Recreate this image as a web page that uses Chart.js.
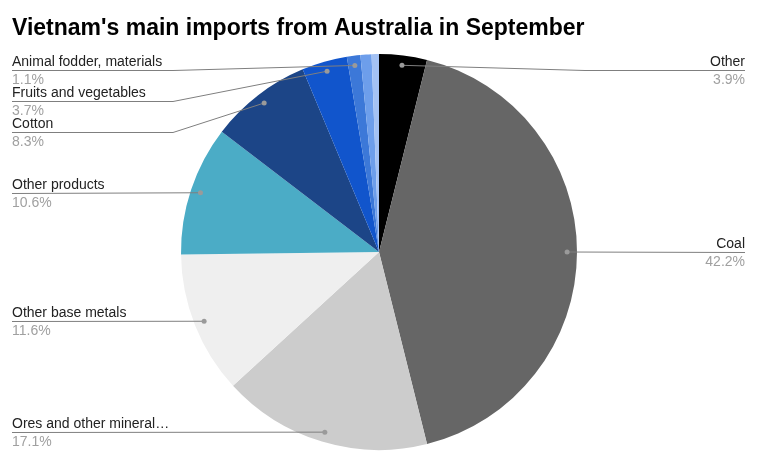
<!DOCTYPE html>
<html>
<head>
<meta charset="utf-8">
<script src="https://cdn.jsdelivr.net/npm/chart.js@4"></script>
<style>
  html, body { margin: 0; padding: 0; background: #fff; }
  #wrap { width: 764px; height: 464px; }
</style>
</head>
<body>
<div id="wrap"><canvas id="pie" width="764" height="464"></canvas></div>
<script>
const title = "Vietnam's main imports from Australia in September";

// slices clockwise from 12 o'clock
const categories = [
  'Other', 'Coal', 'Ores and other mineral…', 'Other base metals', 'Other products',
  'Cotton', 'Fruits and vegetables', 'Animal fodder, materials', '', ''
];
const shares = [3.9, 42.2, 17.1, 11.6, 10.6, 8.3, 3.7, 1.1, 0.9, 0.6];
const shareLabels = ['3.9%', '42.2%', '17.1%', '11.6%', '10.6%', '8.3%', '3.7%', '1.1%', '', ''];
const colors = [
  '#000000', '#666666', '#cccccc', '#efefef', '#4bacc6',
  '#1c4587', '#1155cc', '#3c78d8', '#6d9eeb', '#a4c2f4'
];

const FONT = '"Liberation Sans", Arial, sans-serif';

const calloutPlugin = {
  id: 'callouts',
  afterDraw(chart){
    const ctx = chart.ctx;
    const meta = chart.getDatasetMeta(0);
    ctx.save();

    // title
    ctx.fillStyle = '#000';
    ctx.font = 'bold 23px ' + FONT;
    ctx.textBaseline = 'alphabetic';
    ctx.textAlign = 'left';
    ctx.fillText(title, 12, 35);

    const items = [];
    meta.data.forEach((arc, i) => {
      if(!categories[i]) return;
      const p = arc.getProps(['x','y','startAngle','endAngle','outerRadius']);
      const mid = (p.startAngle + p.endAngle) / 2;
      const r = p.outerRadius * 0.95;
      const px = p.x + Math.cos(mid) * r;
      const py = p.y + Math.sin(mid) * r;
      items.push({ i, px, py, right: px >= p.x });
    });

    const place = side => {
      const list = items.filter(d => d.right === side).sort((a,b) => a.py - b.py);
      let prev = -Infinity;
      list.forEach(d => {
        d.ly = Math.round(Math.max(d.py, 70, prev + 31));
        prev = d.ly;
      });
    };
    place(true); place(false);

    items.forEach(d => {
      const edge = d.right ? 745 : 12;
      const bend = d.right ? 585 : 173;
      ctx.strokeStyle = '#7f7f7f';
      ctx.lineWidth = 1;
      ctx.beginPath();
      ctx.moveTo(edge, d.ly + 0.5);
      if(Math.abs(d.ly - d.py) > 1) ctx.lineTo(bend, d.ly + 0.5);
      ctx.lineTo(d.px, d.py);
      ctx.stroke();

      ctx.fillStyle = '#9a9a9a';
      ctx.beginPath();
      ctx.arc(d.px, d.py, 2.5, 0, Math.PI * 2);
      ctx.fill();

      ctx.textAlign = d.right ? 'right' : 'left';
      ctx.font = '14px ' + FONT;
      ctx.fillStyle = '#222';
      ctx.fillText(categories[d.i], edge, d.ly - 4);
      ctx.fillStyle = '#a0a0a0';
      ctx.fillText(shareLabels[d.i], edge, d.ly + 14);
    });
    ctx.restore();
  }
};

new Chart(document.getElementById('pie').getContext('2d'), {
  type: 'pie',
  data: {
    labels: categories,
    datasets: [{ data: shares, backgroundColor: colors, borderWidth: 0 }]
  },
  options: {
    responsive: false,
    animation: false,
    layout: { padding: { left: 181, right: 187, top: 54, bottom: 14 } },
    plugins: { legend: { display: false }, tooltip: { enabled: false }, title: { display: false } }
  },
  plugins: [calloutPlugin]
});
</script>
</body>
</html>
